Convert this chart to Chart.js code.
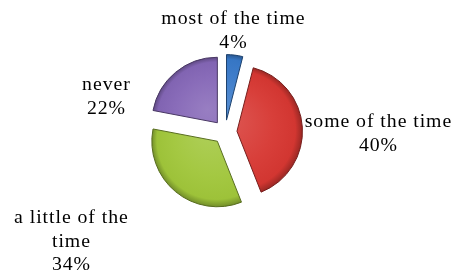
<!DOCTYPE html>
<html><head><meta charset="utf-8">
<script src="https://cdn.jsdelivr.net/npm/chart.js@4"></script>
<style>html,body{margin:0;padding:0;background:#fff;}#wrap{width:452px;height:273px;}</style>
</head><body><div id="wrap"><canvas id="c" width="452" height="273"></canvas></div>
<script>
const categories = ['most of the time', 'some of the time', 'a little of the time', 'never'];
const values = [4, 40, 34, 22];
const labelLines = [['most of the time', '4%'], ['some of the time', '40%'], ['a little of the', 'time', '34%'], ['never', '22%']];
const baseColors = [[55,120,200],[214,55,50],[160,198,58],[132,102,182]];

function shade(c, f){ return 'rgb(' + c.map(v => Math.max(0, Math.min(255, Math.round(f >= 0 ? v + (255 - v) * f : v * (1 + f))))).join(',') + ')'; }

const labelPos = [[233,24],[378,127],[71,223],[106,90]];
const EXPLODE = 12;
const SX = 1.1;

const explodePlugin = {
  id: 'explode',
  beforeDatasetsDraw(chart){
    const meta = chart.getDatasetMeta(0);
    const ctx = chart.ctx;
    meta.data.forEach((el) => {
      const half = (el.startAngle + el.endAngle) / 2;
      ctx.save();
      ctx.translate(Math.cos(half) * EXPLODE, Math.sin(half) * EXPLODE);
      el.draw(ctx, chart.chartArea);
      ctx.restore();
    });
    return false;
  }
};

const labelPlugin = {
  id: 'outLabels',
  afterDraw(chart){
    const ctx = chart.ctx;
    ctx.save();
    ctx.font = '18px "Liberation Serif", serif';
    ctx.fillStyle = '#000';
    ctx.textAlign = 'center';
    ctx.textBaseline = 'alphabetic';
    if ('letterSpacing' in ctx) ctx.letterSpacing = '0.85px';
    ctx.scale(SX, 1);
    labelLines.forEach((lines, i) => {
      const [x, y] = labelPos[i];
      lines.forEach((t, k) => ctx.fillText(t, x / SX + 0.4, y + k * 23.5));
    });
    ctx.restore();
  }
};

new Chart(document.getElementById('c'), {
  type: 'pie',
  data: {
    labels: categories,
    datasets: [{
      data: values,
      backgroundColor: (ctx) => {
        const c = baseColors[ctx.dataIndex];
        const ch = ctx.chart;
        const a = ch.chartArea;
        if (!a) return shade(c, 0);
        const cx = (a.left + a.right) / 2;
        const cy = (a.top + a.bottom) / 2;
        const r = Math.min(a.width, a.height) / 2;
        const g = ch.ctx.createRadialGradient(cx - r * 0.15, cy - r * 0.2, 0, cx, cy, r);
        g.addColorStop(0, shade(c, 0.16));
        g.addColorStop(0.6, shade(c, 0.04));
        g.addColorStop(0.9, shade(c, -0.02));
        g.addColorStop(1, shade(c, -0.3));
        return g;
      },
      borderColor: (ctx) => shade(baseColors[ctx.dataIndex], -0.45),
      borderWidth: 1
    }]
  },
  options: {
    responsive: false,
    animation: false,
    layout: { padding: { left: 159, right: 161, top: 66, bottom: 75 } },
    plugins: { legend: { display: false }, tooltip: { enabled: false } }
  },
  plugins: [explodePlugin, labelPlugin]
});
</script></body></html>
